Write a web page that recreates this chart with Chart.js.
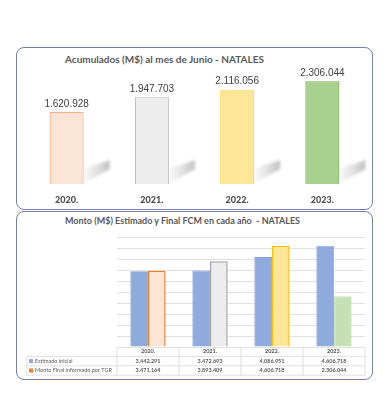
<!DOCTYPE html>
<html>
<head>
<meta charset="utf-8">
<script src="https://cdn.jsdelivr.net/npm/chart.js@4"></script>
<style>
  html, body { margin: 0; padding: 0; background: #fff; }
  body { width: 386px; height: 420px; position: relative; overflow: hidden; font-family: Lato, "Liberation Sans", sans-serif; }
  .panel { position: absolute; border: 1.5px solid #7480a6; border-radius: 8px; box-sizing: border-box; }
  .titulo { position: absolute; color: #595959; font-weight: bold; white-space: nowrap; }
  canvas { position: absolute; }
</style>
</head>
<body>
<div class="panel" style="left:16px; top:47px; width:357px; height:163px;"></div>
<div class="panel" style="left:16px; top:211px; width:357px; height:169px;"></div>
<div class="titulo" style="left:65px; top:53px; font-size:10px;">Acumulados (M$) al mes de Junio - NATALES</div>
<div class="titulo" style="left:65px; top:215px; font-size:9px;">Monto (M$) Estimado y Final FCM en cada año &nbsp;- NATALES</div>
<div style="position:absolute; left:16px; top:47px; width:357px; height:170px;"><canvas id="graf1"></canvas></div>
<div style="position:absolute; left:16px; top:211px; width:357px; height:170px;"><canvas id="graf2"></canvas></div>

<script>
// Datos
var anios = ['2020.', '2021.', '2022.', '2023.'];
var acumuladoJunio = [1620928, 1947703, 2116056, 2306044];
var estimadoInicial = [3442291, 3472693, 4086951, 4606718];
var montoFinalTGR = [3471164, 3893409, 4606718, 2306044];
var nombresSeries = ['Estimado inicial', 'Monto Final informado por TGR'];

var rellenos = ['#fbe5d6', '#ededed', '#ffe699', '#a9d18e'];
var bordes = ['#f4b183', '#bfbfbf', '#ffd966', '#70ad47'];

function formato(n) {
    return String(n).replace(/\B(?=(\d{3})+(?!\d))/g, '.');
}

// sombra gris a la derecha de cada barra
var sombras = {
    id: 'sombras',
    beforeDatasetsDraw: function(chart) {
        var c = chart.ctx;
        chart.getDatasetMeta(0).data.forEach(function(bar) {
            var r = bar.x + bar.width / 2;
            var b = bar.base;
            var g = c.createLinearGradient(r, 0, r + 26, 0);
            g.addColorStop(0, 'rgba(190,190,190,0.1)');
            g.addColorStop(1, 'rgba(150,150,150,0.6)');
            c.save();
            c.filter = 'blur(1.5px)';
            c.fillStyle = g;
            c.beginPath();
            c.moveTo(r, b - 1);
            c.lineTo(r, b - 16);
            c.lineTo(r + 26, b - 24);
            c.lineTo(r + 26, b - 15);
            c.closePath();
            c.fill();
            c.restore();
        });
    }
};

// etiquetas de valor sobre las barras
var etiquetas = {
    id: 'etiquetas',
    afterDatasetsDraw: function(chart) {
        var c = chart.ctx;
        c.save();
        c.font = '10px "Liberation Sans", Arial, sans-serif';
        c.fillStyle = '#404040';
        c.textAlign = 'center';
        c.textBaseline = 'bottom';
        chart.getDatasetMeta(0).data.forEach(function(bar, i) {
            c.fillText(formato(chart.data.datasets[0].data[i]), bar.x, bar.y - 3);
        });
        c.restore();
    }
};

new Chart(document.getElementById('graf1').getContext('2d'), {
    type: 'bar',
    data: {
        labels: anios,
        datasets: [{
            data: acumuladoJunio,
            backgroundColor: rellenos,
            borderColor: bordes,
            borderWidth: 1.2,
            categoryPercentage: 1,
            barPercentage: 0.4
        }]
    },
    options: {
        responsive: true,
        maintainAspectRatio: false,
        animation: false,
        layout: { padding: { left: 8, right: 8, top: 21, bottom: 2 } },
        plugins: { legend: { display: false }, tooltip: { enabled: false } },
        scales: {
            x: {
                grid: { display: false, drawTicks: false },
                border: { display: false },
                ticks: { color: '#4d4d4d', font: { family: 'Lato', size: 9, weight: 900 }, padding: 10 }
            },
            y: { display: false, min: 0, max: 2600000 }
        }
    },
    plugins: [sombras, etiquetas]
});

// tabla de datos bajo el grafico
var tabla = {
    id: 'tabla',
    afterDraw: function(chart) {
        var c = chart.ctx;
        var xs = chart.scales.x;
        var area = chart.chartArea;
        var ancho = (area.right - area.left) / anios.length;
        var izq = 11;
        var fila = 9.4;
        var y0 = area.bottom;
        c.save();
        c.strokeStyle = '#d9d9d9';
        c.lineWidth = 0.8;
        c.beginPath();
        for (var k = 1; k <= 3; k++) {
            c.moveTo(izq, y0 + fila * k);
            c.lineTo(area.right, y0 + fila * k);
        }
        c.moveTo(izq, y0 + fila); c.lineTo(izq, y0 + fila * 3);
        for (var j = 0; j <= anios.length; j++) {
            var x = area.left + ancho * j;
            c.moveTo(x, y0); c.lineTo(x, y0 + fila * 3);
        }
        c.stroke();

        c.fillStyle = '#595959';
        c.textAlign = 'center';
        c.textBaseline = 'middle';
        c.font = 'bold 5.5px Lato, sans-serif';
        var filas = [estimadoInicial, montoFinalTGR];
        anios.forEach(function(a, i) {
            var cx = xs.getPixelForValue(i);
            c.fillText(a, cx, y0 + fila * 0.5);
            filas.forEach(function(serie, s) {
                c.fillText(formato(serie[i]), cx, y0 + fila * (s + 1.5));
            });
        });
        c.textAlign = 'left';
        c.font = '5.5px Lato, sans-serif';
        var llaves = ['#8faadc', '#ed7d31'];
        nombresSeries.forEach(function(n, s) {
            var yy = y0 + fila * (s + 1.5);
            c.fillStyle = llaves[s];
            c.fillRect(izq + 2, yy - 2, 4, 4);
            c.fillStyle = '#595959';
            c.fillText(n, izq + 8, yy);
        });
        c.restore();
    }
};

new Chart(document.getElementById('graf2').getContext('2d'), {
    type: 'bar',
    data: {
        labels: anios,
        datasets: [{
            label: nombresSeries[0],
            data: estimadoInicial,
            backgroundColor: '#8faadc',
            borderColor: '#86a2d6',
            borderWidth: 0.8,
            categoryPercentage: 0.57,
            barPercentage: 1
        }, {
            label: nombresSeries[1],
            data: montoFinalTGR,
            backgroundColor: ['#fbe5d6', '#ededed', '#ffe699', '#c5e0b4'],
            borderColor: ['#ed7d31', '#a5a5a5', '#ffc000', '#c5e0b4'],
            borderWidth: 1.5,
            categoryPercentage: 0.57,
            barPercentage: 1
        }]
    },
    options: {
        responsive: true,
        maintainAspectRatio: false,
        animation: false,
        layout: { padding: { left: 101, right: 8, top: 26, bottom: 34 } },
        plugins: { legend: { display: false }, tooltip: { enabled: false } },
        scales: {
            x: {
                grid: { display: false, drawTicks: false },
                border: { display: false },
                ticks: { display: false }
            },
            y: {
                min: 0,
                max: 5000000,
                grid: { color: '#d9d9d9', lineWidth: 0.8, drawTicks: false },
                border: { display: false },
                ticks: { display: false, stepSize: 500000 }
            }
        }
    },
    plugins: [tabla]
});
</script>
</body>
</html>
